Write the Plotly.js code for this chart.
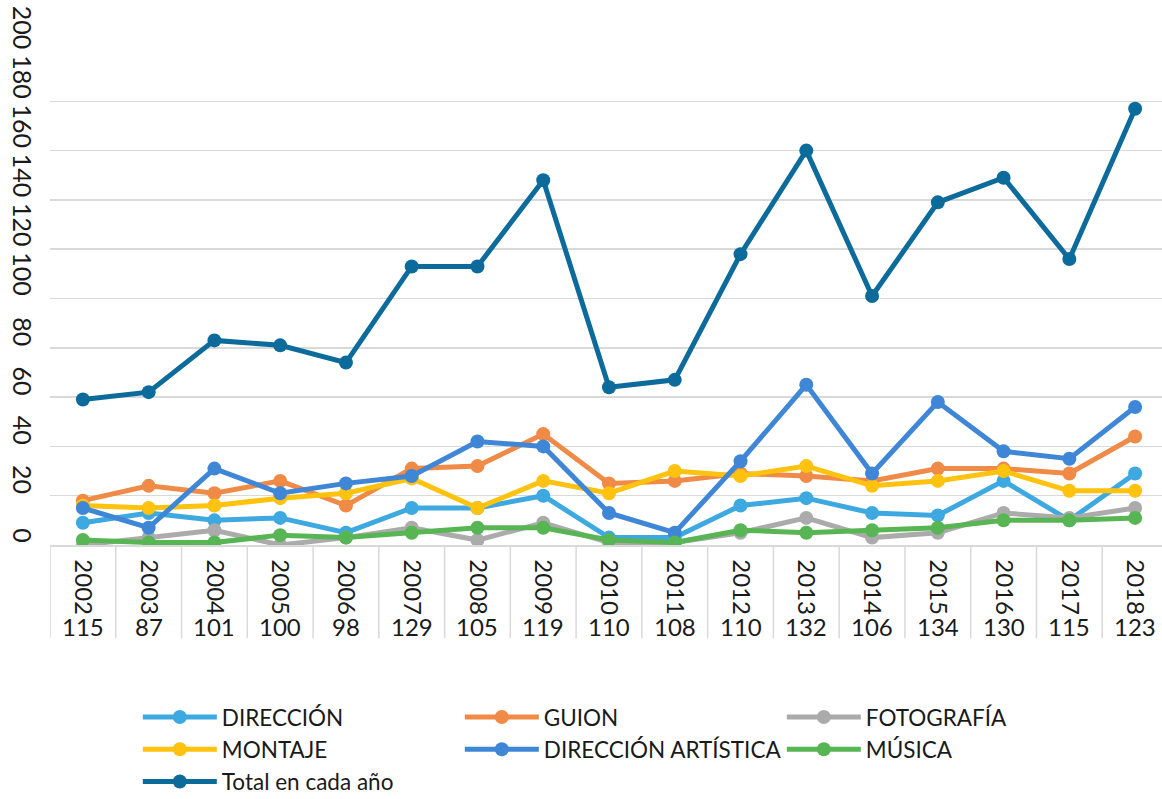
<!DOCTYPE html>
<html>
<head>
<meta charset="utf-8">
<script src="https://cdn.plot.ly/plotly-3.0.1.min.js"></script>
<style>
html,body{margin:0;padding:0;overflow:hidden;background:#fff;}
#chart{width:1168px;height:799px;}
</style>
</head>
<body>
<div id="chart"></div>
<script>
const years = ["2002","2003","2004","2005","2006","2007","2008","2009","2010","2011","2012","2013","2014","2015","2016","2017","2018"];
const counts = [115,87,101,100,98,129,105,119,110,108,110,132,106,134,130,115,123];
const yTicks = [0,20,40,60,80,100,120,140,160,180,200];

const direccion   = [9,13,10,11,5,15,15,20,3,3,16,19,13,12,26,10,29];
const guion       = [18,24,21,26,16,31,32,45,25,26,29,28,26,31,31,29,44];
const fotografia  = [0,3,6,0,3,7,2,9,1,1,5,11,3,5,13,11,15];
const montaje     = [16,15,16,19,21,27,15,26,21,30,28,32,24,26,30,22,22];
const dirArtistica= [15,7,31,21,25,28,42,40,13,5,34,65,29,58,38,35,56];
const musica      = [2,1,1,4,3,5,7,7,2,1,6,5,6,7,10,10,11];
const total       = [59,62,83,81,74,113,113,148,64,67,118,160,101,139,149,116,177];

const seriesNames = ["DIRECCIÓN","GUION","FOTOGRAFÍA","MONTAJE","DIRECCIÓN ARTÍSTICA","MÚSICA","Total en cada año"];
const seriesData  = [direccion,guion,fotografia,montaje,dirArtistica,musica,total];
const seriesColors= ["#3DA9E0","#EF8A47","#ABABAB","#FFC20E","#3F87D6","#58B553","#0C6B9B"];

const traces = seriesNames.map((n,i)=>({
  type:'scatter', mode:'lines+markers', name:n,
  x: years, y: seriesData[i],
  line:{color:seriesColors[i], width:5},
  marker:{color:seriesColors[i], size:14},
  hoverinfo:'skip'
}));

const font = "Lato, 'Open Sans', sans-serif";
const txtColor = '#1a1a1a';

const annotations = years.map((yr,i)=>({
  x: i, xref:'x', y:-0.166, yref:'paper',
  text: String(counts[i]), showarrow:false,
  font:{family:font, size:24, color:txtColor},
  xanchor:'center', yanchor:'middle'
})).concat(yTicks.map(v=>({
  x:-0.024, xref:'paper', y:v, yref:'y',
  text:String(v), showarrow:false, textangle:90,
  font:{family:font, size:25, color:txtColor},
  xanchor:'center', yanchor:'bottom'
})));

const shapes = [];
for (let i=0;i<=years.length;i++){
  shapes.push({type:'line', xref:'x', yref:'paper', x0:i-0.5, x1:i-0.5, y0:0, y1:-0.189,
    line:{color:'#d9d9d9', width:1.5}});
}

const layout = {
  width:1168, height:799,
  margin:{l:50, r:0, t:52, b:254},
  paper_bgcolor:'#fff', plot_bgcolor:'#fff',
  font:{family:font, color:txtColor},
  showlegend:true,
  xaxis:{
    type:'category', categoryorder:'array', categoryarray:years,
    range:[-0.5, years.length-0.5],
    showgrid:false, zeroline:false,
    showline:true, linecolor:'#d9d9d9', linewidth:1.5,
    ticks:'', tickangle:90, ticklabelstandoff:8,
    tickfont:{family:font, size:24, color:txtColor},
    fixedrange:true
  },
  yaxis:{
    range:[0,200], tickvals:yTicks,
    showgrid:true, gridcolor:'#d9d9d9', gridwidth:1.5,
    zeroline:false, showline:false,
    ticks:'', showticklabels:false,
    fixedrange:true
  },
  legend:{
    orientation:'h', xref:'container', yref:'container',
    x:0.118, xanchor:'left', y:0.129, yanchor:'top',
    entrywidth:233, entrywidthmode:'pixels',
    itemwidth:74, tracegroupgap:0,
    font:{family:font, size:22.5, color:txtColor},
    traceorder:'normal'
  },
  annotations: annotations,
  shapes: shapes
};

Plotly.newPlot('chart', traces, layout, {displayModeBar:false, staticPlot:true});
</script>
</body>
</html>
